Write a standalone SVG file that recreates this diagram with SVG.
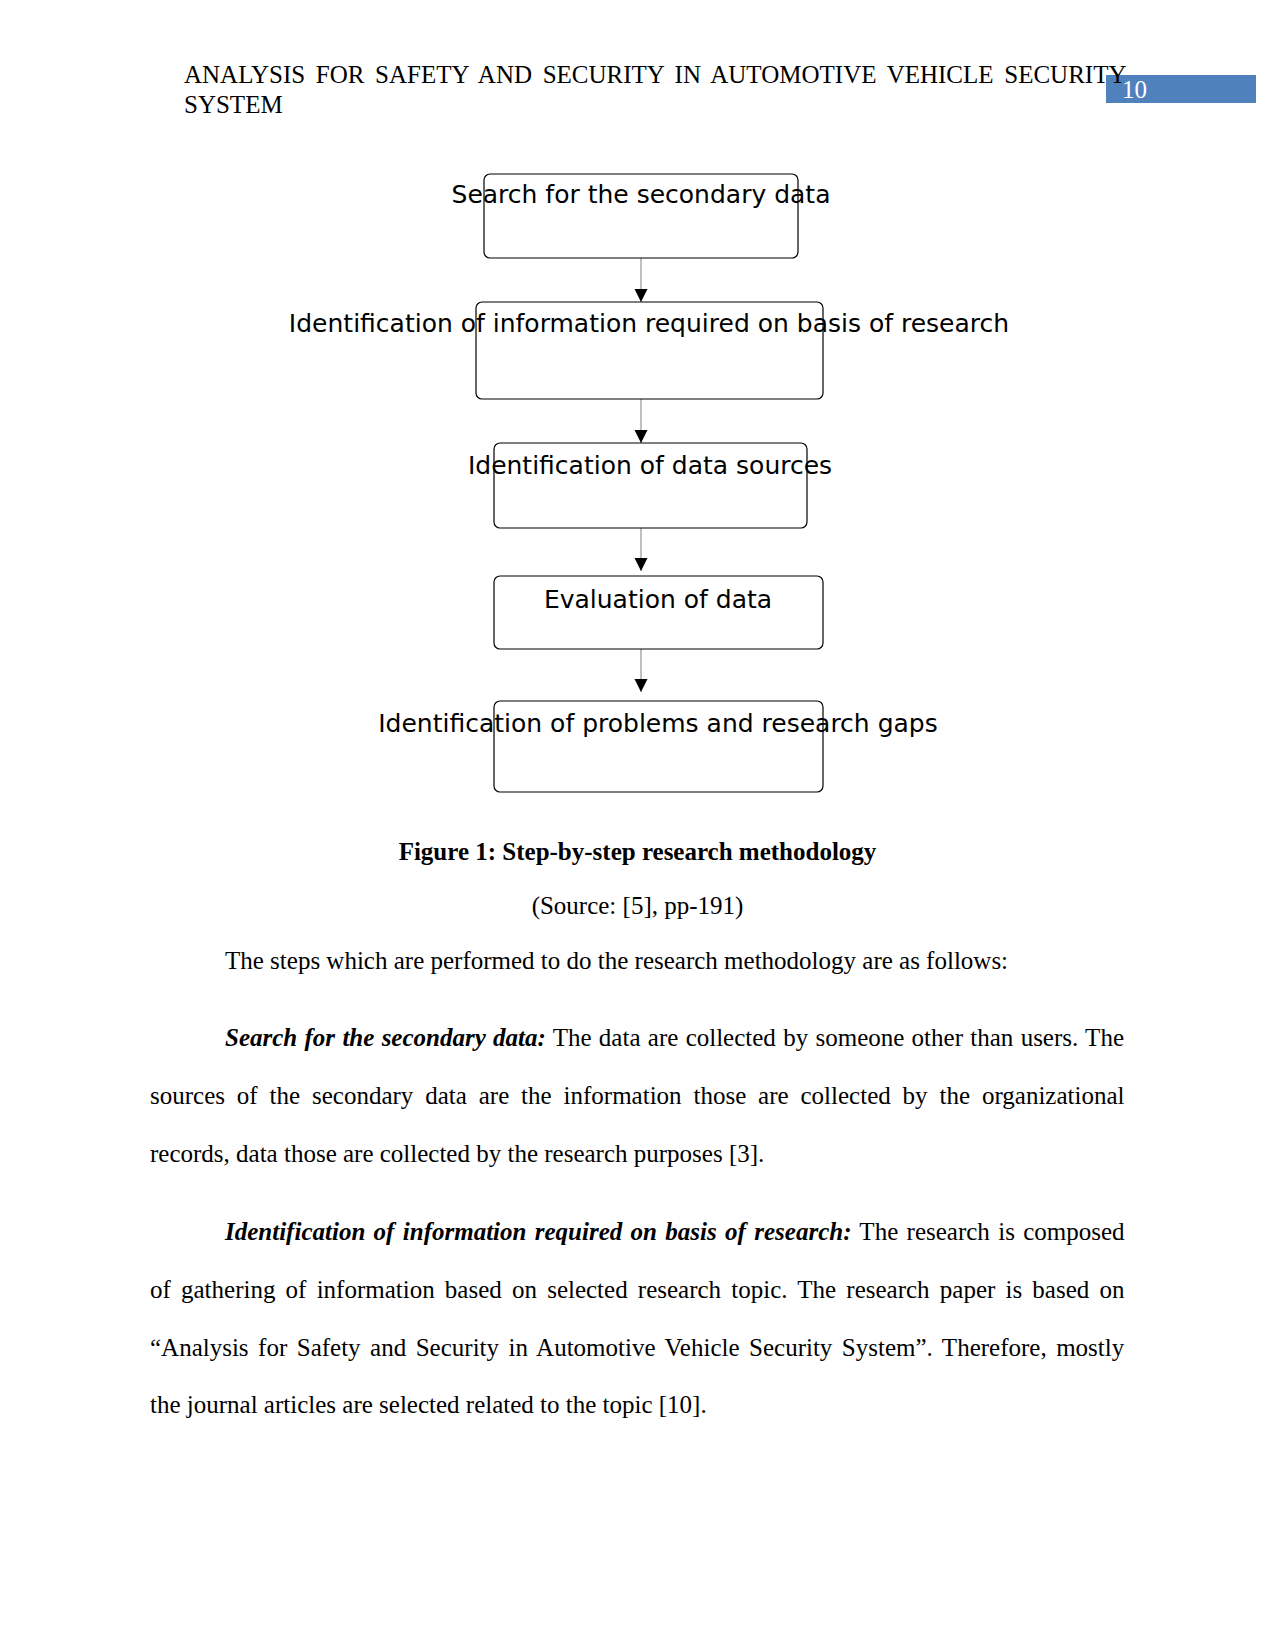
<svg xmlns="http://www.w3.org/2000/svg" width="1275" height="1651" viewBox="0 0 1275 1651">
<style>
.ser{font-family:"Liberation Serif","Times New Roman",serif;font-size:25px;fill:#000}
.bi{font-weight:bold;font-style:italic}
.node rect{fill:#fff;stroke:#000;stroke-width:1.2}
.node text{font-family:"DejaVu Sans",sans-serif;font-size:25px;fill:#000;text-anchor:middle}
.conn line{stroke:#808080;stroke-width:1}
</style>
<defs>
<marker id="ah" markerWidth="14" markerHeight="14" refX="13" refY="7" orient="auto" markerUnits="userSpaceOnUse">
<path d="M0,0.5 L13,7 L0,13.5 Z" fill="#000"/>
</marker>
</defs>
<rect width="1275" height="1651" fill="#fff"/>
<g id="header">
<rect x="1106" y="75" width="150" height="28" fill="#4f81bd"/>
<text class="ser" x="184" y="83" word-spacing="4.4">ANALYSIS FOR SAFETY AND SECURITY IN AUTOMOTIVE VEHICLE SECURITY</text>
<text class="ser" x="184" y="113">SYSTEM</text>
<text class="ser" x="1122" y="98" style="fill:#fff">10</text>
</g>
<g id="connectors" class="conn">
<line x1="641" y1="258" x2="641" y2="302" marker-end="url(#ah)"/>
<line x1="641" y1="399" x2="641" y2="443" marker-end="url(#ah)"/>
<line x1="641" y1="528" x2="641" y2="571" marker-end="url(#ah)"/>
<line x1="641" y1="649" x2="641" y2="692" marker-end="url(#ah)"/>
</g>
<g id="n1" class="node"><rect x="484" y="174" width="314" height="84" rx="6"/><text x="641" y="203">Search for the secondary data</text></g>
<g id="n2" class="node"><rect x="476" y="302" width="347" height="97" rx="6"/><text x="649" y="332">Identification of information required on basis of research</text></g>
<g id="n3" class="node"><rect x="494" y="443" width="313" height="85" rx="6"/><text x="650" y="474">Identification of data sources</text></g>
<g id="n4" class="node"><rect x="494" y="576" width="329" height="73" rx="6"/><text x="658" y="608">Evaluation of data</text></g>
<g id="n5" class="node"><rect x="494" y="701" width="329" height="91" rx="6"/><text x="658" y="732">Identification of problems and research gaps</text></g>
<g id="body">
<text class="ser" x="637.5" y="860" text-anchor="middle" font-weight="bold">Figure 1: Step-by-step research methodology</text>
<text class="ser" x="637.5" y="914" text-anchor="middle">(Source: [5], pp-191)</text>
<text class="ser" x="225" y="969">The steps which are performed to do the research methodology are as follows:</text>
<text class="ser" x="225" y="1046" word-spacing="1.05"><tspan class="bi">Search for the secondary data:</tspan> The data are collected by someone other than users. The</text>
<text class="ser" x="150" y="1104" word-spacing="5.63">sources of the secondary data are the information those are collected by the organizational</text>
<text class="ser" x="150" y="1162">records, data those are collected by the research purposes [3].</text>
<text class="ser" x="225" y="1240" word-spacing="2.09"><tspan class="bi">Identification of information required on basis of research:</tspan> The research is composed</text>
<text class="ser" x="150" y="1298" word-spacing="3.94">of gathering of information based on selected research topic. The research paper is based on</text>
<text class="ser" x="150" y="1356" word-spacing="3.25">“Analysis for Safety and Security in Automotive Vehicle Security System”. Therefore, mostly</text>
<text class="ser" x="150" y="1413">the journal articles are selected related to the topic [10].</text>
</g>
</svg>
